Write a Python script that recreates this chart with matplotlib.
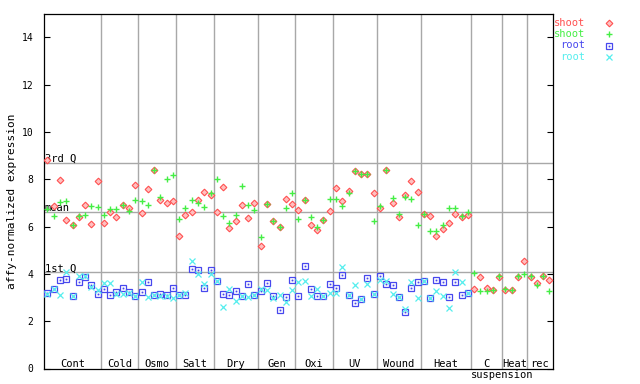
import numpy as np
import matplotlib
matplotlib.use("Agg")
import matplotlib.pyplot as plt
from matplotlib.lines import Line2D

# group layout along the x axis (one slot per sample)
group_labels = ["Cont", "Cold", "Osmo", "Salt", "Dry", "Gen", "Oxi", "UV",
                "Wound", "Heat", "C", "Heat", "rec"]
group_sizes = [9, 6, 6, 6, 7, 6, 6, 7, 7, 8, 5, 4, 4]

# reference lines
q3_val = 8.69
mean_val = 6.62
q1_val = 4.07

shoot_red = [
    8.83, 6.85, 7.95, 6.26, 6.05, 6.39, 6.91, 6.11, 7.94,
    6.15, 6.62, 6.41, 6.91, 6.78, 7.77,
    6.57, 7.59, 8.38, 7.11, 7.00, 7.09,
    5.59, 6.49, 6.62, 7.14, 7.45, 7.35,
    6.62, 7.67, 5.94, 6.25, 6.91, 6.36, 7.00,
    5.18, 6.95, 6.24, 5.97, 7.17, 6.95,
    6.70, 7.11, 6.08, 5.87, 6.29, 6.67,
    7.63, 7.08, 7.52, 8.36, 8.21, 8.21, 7.42,
    6.79, 8.39, 7.00, 6.39, 7.33, 7.91, 7.46,
    6.54, 6.45, 5.59, 5.90, 6.15, 6.53, 6.41, 6.49,
    3.37, 3.87, 3.42, 3.32, 3.86,
    3.33, 3.32, 3.87, 4.56,
    3.88, 3.62, 3.93, 3.75,
]
shoot_green = [
    6.76, 6.46, 7.02, 7.09, 6.08, 6.43, 6.50, 6.88, 6.82,
    6.49, 6.74, 6.74, 6.91, 6.66, 7.11,
    7.09, 6.91, 8.38, 7.25, 8.01, 8.19,
    6.32, 6.77, 7.12, 7.00, 6.83, 7.43,
    8.01, 6.46, 6.15, 6.47, 7.70, 6.91, 6.70,
    5.56, 6.96, 6.24, 5.97, 6.79, 7.42,
    6.32, 7.11, 6.41, 5.98, 6.29, 7.17,
    7.17, 6.85, 7.42, 8.36, 8.21, 8.22, 6.25,
    6.88, 8.39, 7.21, 6.53, 7.25, 7.17, 6.06,
    6.51, 5.83, 5.83, 6.07, 6.79, 6.79, 6.45, 6.63,
    4.04, 3.28, 3.28, 3.31, 3.90,
    3.35, 3.33, 3.92, 4.00,
    3.89, 3.54, 3.93, 3.28,
]
nan = np.nan
root_blue = [
    3.20, 3.38, 3.73, 3.79, 3.06, 3.66, 3.88, 3.52, 3.15,
    3.34, 3.11, 3.23, 3.41, 3.23, 3.08,
    3.24, 3.66, 3.10, 3.15, 3.10, 3.41,
    3.12, 3.12, 4.21, 4.18, 3.40, 4.18,
    3.69, 3.15, 3.11, 3.28, 3.07, 3.58, 3.11,
    3.29, 3.62, 3.07, 2.48, 3.03, 3.75,
    3.08, 4.35, 3.37, 3.08, 3.08, 3.58,
    3.41, 3.96, 3.10, 2.77, 2.94, 3.83, 3.15,
    3.91, 3.58, 3.53, 3.03, 2.39, 3.42, 3.66,
    3.71, 2.98, 3.75, 3.66, 3.03, 3.66, 3.11, 3.19,
    nan, nan, nan, nan, nan,
    nan, nan, nan, nan,
    nan, nan, nan, nan,
]
root_cyan = [
    3.15, 3.38, 3.12, 4.09, 3.06, 3.92, 3.90, 3.46, 3.30,
    3.61, 3.61, 3.14, 3.13, 3.18, 3.07,
    3.66, 3.03, 3.10, 3.08, 3.06, 2.99,
    3.12, 3.19, 4.56, 3.99, 3.59, 3.99,
    3.69, 2.60, 3.34, 2.86, 3.07, 3.04, 3.11,
    3.38, 3.33, 2.99, 3.11, 2.81, 3.33,
    3.66, 3.69, 3.08, 3.38, 3.08, 3.17,
    3.20, 4.27, 3.10, 3.53, 2.94, 3.58, 3.15,
    3.75, 3.69, 3.15, 3.03, 2.50, 3.66, 2.98,
    3.70, 2.98, 3.28, 3.08, 2.56, 4.08, 3.66, 3.19,
    nan, nan, nan, nan, nan,
    nan, nan, nan, nan,
    nan, nan, nan, nan,
]

RED = "#ff5050"
GREEN = "#44ee44"
BLUE = "#4848ee"
CYAN = "#55eeee"
GRID = "#a8a8a8"
MONO = "DejaVu Sans Mono"

fig = plt.figure(figsize=(6.4, 3.84), dpi=100)
ax = fig.add_axes([44.3 / 640, 15.5 / 384, (552.5 - 44.3) / 640, (370.4 - 15.5) / 384])

n = len(shoot_red)
xs = np.arange(n) + 0.5
bounds = np.cumsum(group_sizes)

# separators and quartile lines
for b in bounds[:-1]:
    ax.axvline(b, color=GRID, lw=1.0, zorder=1)
for val in (q3_val, mean_val, q1_val):
    ax.axhline(val, color=GRID, lw=1.0, zorder=1)
for val, txt in ((q3_val, "3rd Q"), (mean_val, "mean"), (q1_val, "1st Q")):
    ax.text(0.1, val + 0.04, txt, fontsize=7.5, family=MONO, va="baseline",
            ha="left", zorder=2)

# data series
red_kw = dict(ls="none", marker="D", ms=3.4, mfc="#ffc0c0", mec=RED, mew=0.8)
green_kw = dict(ls="none", marker="+", ms=4.8, mec=GREEN, mew=1.0)
blue_kw = dict(ls="none", marker="s", ms=4.0, mfc="none", mec=BLUE, mew=0.9)
dot_kw = dict(ls="none", marker="s", ms=0.9, mfc=BLUE, mec=BLUE, mew=0.3)
cyan_kw = dict(ls="none", marker="x", ms=4.0, mec=CYAN, mew=0.9)

ax.plot(xs, shoot_red, zorder=3, **red_kw)
ax.plot(xs, shoot_green, zorder=4, **green_kw)
ax.plot(xs, root_blue, zorder=5, **blue_kw)
ax.plot(xs, root_blue, zorder=5, **dot_kw)
ax.plot(xs, root_cyan, zorder=6, **cyan_kw)

# group names along the bottom
starts = np.concatenate([[0], bounds[:-1]])
for s, e, lab in zip(starts, bounds, group_labels):
    ax.text((s + e) / 2, 0.06, lab, fontsize=7.5, family=MONO, ha="center",
            va="baseline")
ax.text(72.9, -0.42, "suspension", fontsize=7.5, family=MONO, ha="center",
        va="baseline", clip_on=False)

ax.set_xlim(0, n)
ax.set_ylim(0, 15)
ax.set_xticks([])
ax.set_yticks(np.arange(0, 15, 2))
ax.tick_params(axis="y", direction="in", length=4.3, width=0.8, left=True,
               right=True, labelsize=7, pad=8)
for lab in ax.get_yticklabels():
    lab.set_family(MONO)
for sp in ax.spines.values():
    sp.set_linewidth(0.9)
    sp.set_color("black")

fig.text(11.7 / 640, 1 - 201 / 384, "affy-normalized expression", rotation=90,
         fontsize=8.0, family=MONO, ha="center", va="center")

# legend drawn by hand: labels right-aligned, marker to the right
leg_rows = [("shoot", RED, [red_kw]), ("shoot", GREEN, [green_kw]),
            ("root", BLUE, [blue_kw, dot_kw]), ("root", CYAN, [cyan_kw])]
for k, (txt, col, kws) in enumerate(leg_rows):
    yy = 1 - (23.3 + 11.1 * k) / 384
    fig.text(585.5 / 640, yy, txt, color=col, fontsize=7.5, family=MONO,
             ha="right", va="center")
    for kw in kws:
        fig.add_artist(Line2D([609 / 640], [yy], transform=fig.transFigure, **kw))

fig.savefig("out.png", dpi=100)
